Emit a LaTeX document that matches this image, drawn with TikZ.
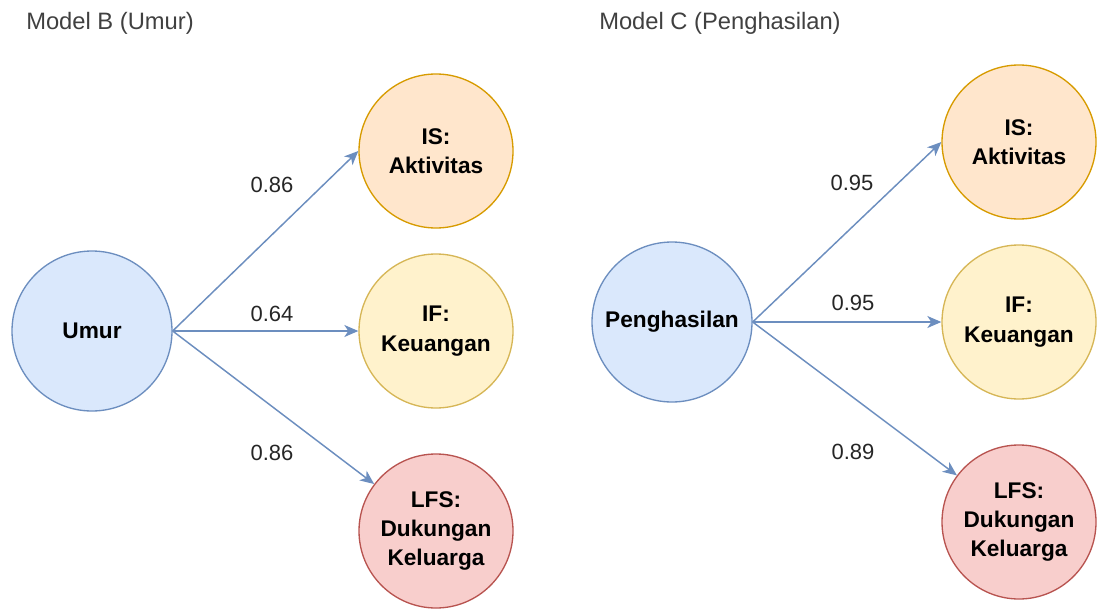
\documentclass[tikz,border=0pt]{standalone}
\usepackage{fontspec}
\setmainfont{Liberation Sans}
\usepackage{xcolor}
\usetikzlibrary{arrows.meta, positioning, calc}

\definecolor{biruisi}{HTML}{DAE8FC}
\definecolor{birugaris}{HTML}{6C8EBF}
\definecolor{oranyeisi}{HTML}{FFE6CC}
\definecolor{oranyegaris}{HTML}{D79B00}
\definecolor{kuningisi}{HTML}{FFF2CC}
\definecolor{kuninggaris}{HTML}{D6B656}
\definecolor{merahisi}{HTML}{F8CECC}
\definecolor{merahgaris}{HTML}{B85450}

\begin{document}
\begin{tikzpicture}[
    x=0.75pt, y=-0.75pt,
    lingkaran/.style={circle, draw, line width=1pt, inner sep=0pt, align=center,
                      font=\fontsize{17}{22}\selectfont\bfseries},
    sumber/.style={lingkaran, minimum size=120pt, fill=biruisi, draw=birugaris},
    aktivitas/.style={lingkaran, minimum size=115.5pt, fill=oranyeisi, draw=oranyegaris},
    keuangan/.style={lingkaran, minimum size=115.5pt, fill=kuningisi, draw=kuninggaris},
    keluarga/.style={lingkaran, minimum size=115.5pt, fill=merahisi, draw=merahgaris},
    panah/.style={-{Stealth[length=10.5pt, width=9pt, inset=3pt]}, line width=1.1pt, draw=birugaris},
    bobot/.style={inner sep=0pt, text=black!85, font=\fontsize{16.5}{20}\selectfont},
    judul/.style={anchor=base west, inner sep=0pt, text=black!75, font=\fontsize{17.8}{21}\selectfont}
  ]
    \useasboundingbox (0,0) rectangle (1099,610);

    % Model B
    \node[judul] (judulB) at (26,30) {Model B (Umur)};
    \node[sumber]    (umurB) at (92,331)  {Umur};
    \node[aktivitas] (isB)   at (436,151) {IS:\\Aktivitas};
    \node[keuangan]  (ifB)   at (436,331) {IF:\\Keuangan};
    \node[keluarga]  (lfsB)  at (436,531) {LFS:\\Dukungan\\Keluarga};
    \draw[panah] (umurB.east) -- (isB.west);
    \draw[panah] (umurB.east) -- (ifB.west);
    \draw[panah] (umurB.east) -- (lfsB);
    \node[bobot] (bB1) at (272,185) {0.86};
    \node[bobot] (bB2) at (272,314) {0.64};
    \node[bobot] (bB3) at (272,453) {0.86};

    % Model C
    \node[judul] (judulC) at (599,30) {Model C (Penghasilan)};
    \node[sumber]    (hasilC) at (672,322)  {Penghasilan};
    \node[aktivitas] (isC)    at (1019,142) {IS:\\Aktivitas};
    \node[keuangan]  (ifC)    at (1019,322) {IF:\\Keuangan};
    \node[keluarga]  (lfsC)   at (1019,522) {LFS:\\Dukungan\\Keluarga};
    \draw[panah] (hasilC.east) -- (isC.west);
    \draw[panah] (hasilC.east) -- (ifC.west);
    \draw[panah] (hasilC.east) -- (lfsC);
    \node[bobot] (bC1) at (852,183) {0.95};
    \node[bobot] (bC2) at (853,303) {0.95};
    \node[bobot] (bC3) at (853,452) {0.89};
  \end{tikzpicture}
\end{document}
